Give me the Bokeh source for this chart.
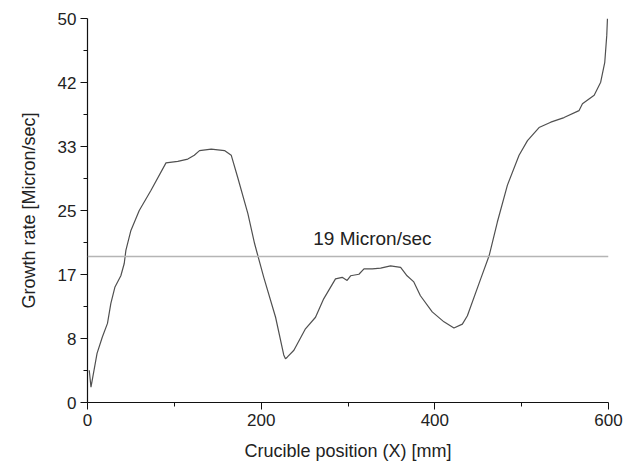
from bokeh.plotting import figure
from bokeh.models import FixedTicker, Span, Label, Range1d
from bokeh.embed import file_html
from bokeh.resources import INLINE

# Crucible position (mm) and growth rate (micron/sec)
pos = [2, 4, 11, 17, 23, 26.9, 31.5, 38.4, 42.3, 44.2, 50, 59.6, 73, 90.4, 104, 115.5,
       123, 129, 142.5, 157.8, 165.5, 173, 184.7, 192.4, 195.5, 203, 216.6, 226, 228, 230, 237.7,
       251, 262.6, 272, 285.6, 293.3, 299, 303, 312.6, 318.4, 328, 337.6, 349, 360.6,
       368, 375.8, 383.4, 397, 410.5, 422, 431.7, 437.5, 452.8, 462.5, 472, 483.6, 497,
       506.7, 520, 533.5, 548.8, 566, 570, 583.5, 591, 595.7, 598, 598.8]
rate = [4.2, 2.0, 6.4, 8.5, 10.3, 12.9, 15.0, 16.5, 18.1, 19.8, 22.4, 25.0, 27.6, 31.2,
        31.4, 31.7, 32.2, 32.8, 33.0, 32.8, 32.2, 29.3, 24.6, 20.7, 19.4, 16.3, 11.1, 6.2, 5.7, 5.9,
        6.8, 9.6, 11.1, 13.5, 16.1, 16.3, 15.9, 16.5, 16.7, 17.4, 17.4, 17.5, 17.8, 17.6,
        16.5, 15.7, 13.9, 11.8, 10.5, 9.7, 10.2, 11.3, 16.1, 19.1, 23.5, 28.3, 32.2, 34.1,
        35.8, 36.5, 37.1, 38.0, 38.9, 40.0, 41.7, 44.3, 47.8, 50.0]

threshold = 19
threshold_label = "19 Micron/sec"

y_ticks = [0, 50 / 6, 100 / 6, 25, 200 / 6, 250 / 6, 50]
y_tick_labels = ["0", "8", "17", "25", "33", "42", "50"]
x_ticks = [0, 200, 400, 600]
x_minor = [100, 300, 500]

FONT = "Liberation Sans"
TXT = "#222222"

p = figure(width=632, height=463, output_backend="svg", toolbar_location=None,
           x_range=Range1d(0, 600), y_range=Range1d(0, 50),
           min_border_left=87, min_border_right=24, min_border_top=18, min_border_bottom=61)
p.outline_line_color = None
p.xgrid.visible = False
p.ygrid.visible = False
p.background_fill_color = "white"
p.border_fill_color = "white"

y_minor = [(y_ticks[i] + y_ticks[i + 1]) / 2 for i in range(len(y_ticks) - 1)]
p.yaxis.ticker = FixedTicker(ticks=y_ticks, minor_ticks=y_minor)
p.yaxis.major_label_overrides = {t: l for t, l in zip(y_ticks, y_tick_labels)}
p.xaxis.ticker = FixedTicker(ticks=x_ticks, minor_ticks=x_minor)

for ax in (p.xaxis[0], p.yaxis[0]):
    ax.axis_line_color = "#111111"
    ax.axis_line_width = 1.2
    ax.major_tick_line_color = "#111111"
    ax.minor_tick_line_color = "#111111"
    ax.major_tick_in = 0
    ax.major_tick_out = 7
    ax.minor_tick_in = 0
    ax.minor_tick_out = 4
    ax.major_label_text_font = FONT
    ax.major_label_text_font_size = "17px"
    ax.major_label_text_color = TXT
    ax.axis_label_text_font = FONT
    ax.axis_label_text_font_size = "18px"
    ax.axis_label_text_font_style = "normal"
    ax.axis_label_text_color = TXT
    ax.major_label_standoff = 4

p.xaxis.axis_label = "Crucible position (X) [mm]"
p.yaxis.axis_label = "Growth rate [Micron/sec]"
p.xaxis.axis_label_standoff = 12
p.yaxis.axis_label_standoff = 16

p.add_layout(Span(location=threshold, dimension="width", line_color="#b5b5b5", line_width=1.5))
p.line(pos, rate, line_color="#505050", line_width=1.2)
p.add_layout(Label(x=260, y=21.3, text=threshold_label, text_font=FONT,
                   text_font_size="19px", text_color=TXT, text_baseline="alphabetic"))

open("out.html", "w").write(file_html(p, INLINE))
